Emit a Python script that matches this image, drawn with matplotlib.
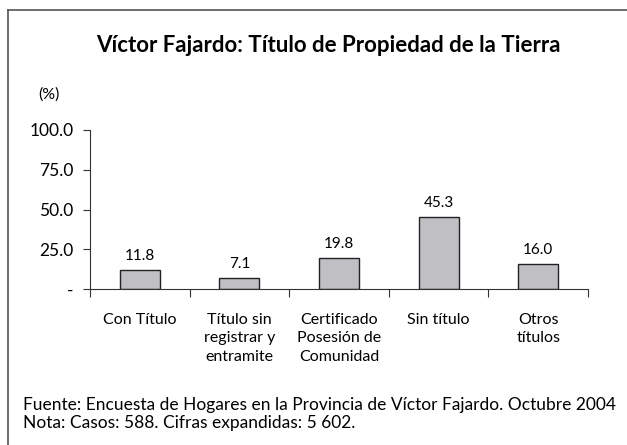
import matplotlib.pyplot as plt
from matplotlib.lines import Line2D

# data
categories = ['Con Título', 'Título sin\nregistrar y\nentramite',
              'Certificado\nPosesión de\nComunidad', 'Sin título', 'Otros\ntítulos']
values = [11.8, 7.1, 19.8, 45.3, 16.0]
yticks = [0, 25, 50, 75, 100]
ytick_labels = ['-', '25.0', '50.0', '75.0', '100.0']

plt.rcParams['font.family'] = ['Lato', 'DejaVu Sans']

fig = plt.figure(figsize=(6.27, 4.45), dpi=100)
W, H = 627, 445
ax = fig.add_axes([90 / W, 1 - 289 / H, (588 - 90) / W, (289 - 130) / H])

x = list(range(len(categories)))
ax.bar(x, values, width=0.4, color='#c0c0c4', edgecolor='#222222', linewidth=1.0)
for xi, v in zip(x, values):
    ax.annotate(f'{v:.1f}', (xi, v), xytext=(0, 5), textcoords='offset points',
                ha='center', va='bottom', fontsize=11)

ax.set_xlim(-0.5, len(categories) - 0.5)
ax.set_ylim(0, 100)
ax.set_yticks(yticks)
ax.set_yticklabels(ytick_labels, fontsize=12.5)
ax.set_xticks([i - 0.5 for i in range(len(categories) + 1)])
ax.set_xticklabels([])
ax.tick_params(axis='x', direction='out', length=6, color='#333333')
ax.tick_params(axis='y', direction='out', length=5, pad=7, color='#333333')
for s in ['top', 'right']:
    ax.spines[s].set_visible(False)
for s in ['left', 'bottom']:
    ax.spines[s].set_color('#333333')

for xi, lab in zip(x, categories):
    ax.text(xi, -0.15, lab, transform=ax.get_xaxis_transform(), ha='center',
            va='top', fontsize=11.5, linespacing=1.4)

fig.text(49 / W, 1 - 95 / H, '(%)', ha='center', va='center', fontsize=11.5)
fig.text(96 / W, 1 - 45 / H, 'Víctor Fajardo: Título de Propiedad de la Tierra',
         ha='left', va='center', fontsize=16, fontweight='bold')
fig.text(23 / W, 1 - 405 / H,
         'Fuente: Encuesta de Hogares en la Provincia de Víctor Fajardo. Octubre 2004',
         ha='left', va='center', fontsize=12.5)
fig.text(23 / W, 1 - 423 / H, 'Nota: Casos: 588. Cifras expandidas: 5 602.',
         ha='left', va='center', fontsize=12.5)

# frame (left and top borders)
fig.add_artist(Line2D([8 / W, 8 / W], [0, 1 - 10 / H], color='#555555', lw=1.2))
fig.add_artist(Line2D([8 / W, 1], [1 - 10 / H, 1 - 10 / H], color='#555555', lw=1.2))

fig.savefig('out.png', dpi=100)
